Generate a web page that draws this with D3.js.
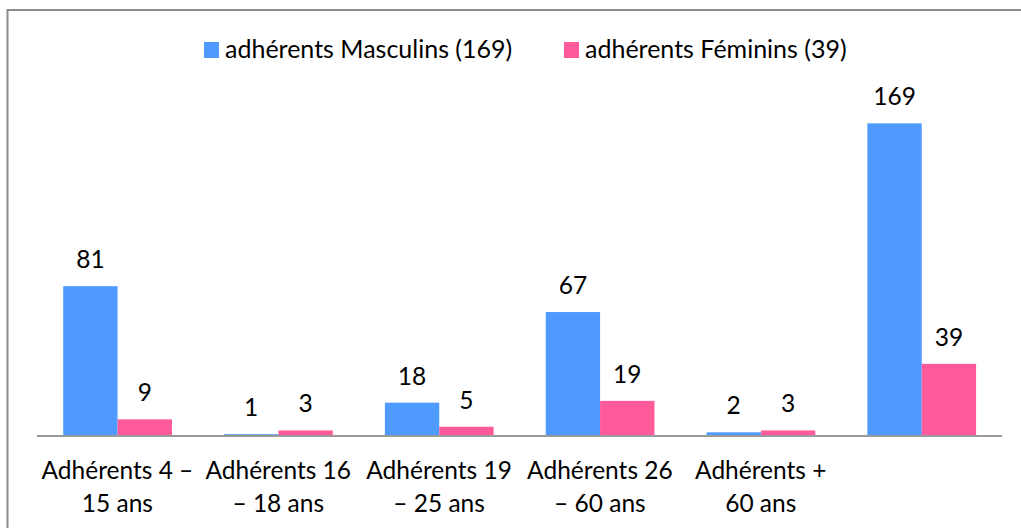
<!DOCTYPE html>
<html>
<head>
<meta charset="utf-8">
<script src="https://cdn.jsdelivr.net/npm/d3@7/dist/d3.min.js"></script>
<style>
  html, body { margin: 0; padding: 0; background: #fff; }
  svg { display: block; }
  text { font-family: Lato, "Open Sans", sans-serif; fill: #000; }
</style>
</head>
<body>
<svg id="chart" width="1021" height="528"></svg>
<script>
const categories = ["Adhérents 4 – 15 ans", "Adhérents 16 – 18 ans", "Adhérents 19 – 25 ans", "Adhérents 26 – 60 ans", "Adhérents + 60 ans", ""];
const categoryLines = [["Adhérents 4 –", "15 ans"], ["Adhérents 16", "– 18 ans"], ["Adhérents 19", "– 25 ans"], ["Adhérents 26", "– 60 ans"], ["Adhérents +", "60 ans"], []];
const seriesNames = ["adhérents Masculins (169)", "adhérents Féminins (39)"];
const masculins = [81, 1, 18, 67, 2, 169];
const feminins = [9, 3, 5, 19, 3, 39];
const colors = ["#4f9aff", "#ff5a99"];

const FS = 24.5;
const LFS = 25;
const svg = d3.select("#chart");

// outer border
svg.append("rect")
  .attr("x", 7.5).attr("y", 10).attr("width", 1030).attr("height", 540)
  .attr("fill", "none").attr("stroke", "#8c8c8c").attr("stroke-width", 2);

const plot = { left: 37, right: 1002, base: 436, top: 103 };

const x0 = d3.scaleBand().domain(d3.range(categories.length)).range([plot.left, plot.right]).padding(0);
const x1 = d3.scaleBand().domain([0, 1])
  .range([x0.bandwidth() * 0.163, x0.bandwidth() * 0.839]).padding(0);
const y = d3.scaleLinear().domain([0, 180]).range([plot.base, plot.top]);

const series = [masculins, feminins];

series.forEach((vals, s) => {
  const g = svg.append("g");
  g.selectAll("rect").data(vals).join("rect")
    .attr("x", (d, i) => x0(i) + x1(s))
    .attr("y", d => y(d))
    .attr("width", x1.bandwidth())
    .attr("height", d => y(0) - y(d))
    .attr("fill", colors[s]);
  g.selectAll("text").data(vals).join("text")
    .attr("x", (d, i) => x0(i) + x1(s) + x1.bandwidth() / 2)
    .attr("y", d => y(d) - 18)
    .attr("text-anchor", "middle")
    .attr("font-size", FS)
    .text(d => d);
});

// baseline
svg.append("line")
  .attr("x1", plot.left).attr("x2", plot.right)
  .attr("y1", plot.base).attr("y2", plot.base)
  .attr("stroke", "#9a9a9a").attr("stroke-width", 2);

// category labels
const lab = svg.append("g");
categoryLines.forEach((lines, i) => {
  const t = lab.append("text")
    .attr("text-anchor", "middle")
    .attr("font-size", FS);
  lines.forEach((ln, k) => {
    t.append("tspan")
      .attr("x", x0(i) + x0.bandwidth() / 2)
      .attr("y", 479 + k * 33)
      .text(ln);
  });
});

// legend
const legendX = [204, 564];
seriesNames.forEach((name, s) => {
  svg.append("rect")
    .attr("x", legendX[s]).attr("y", 42)
    .attr("width", 15).attr("height", 16)
    .attr("fill", colors[s]);
  svg.append("text")
    .attr("x", legendX[s] + 21).attr("y", 58)
    .attr("font-size", LFS)
    .text(name);
});
</script>
</body>
</html>
